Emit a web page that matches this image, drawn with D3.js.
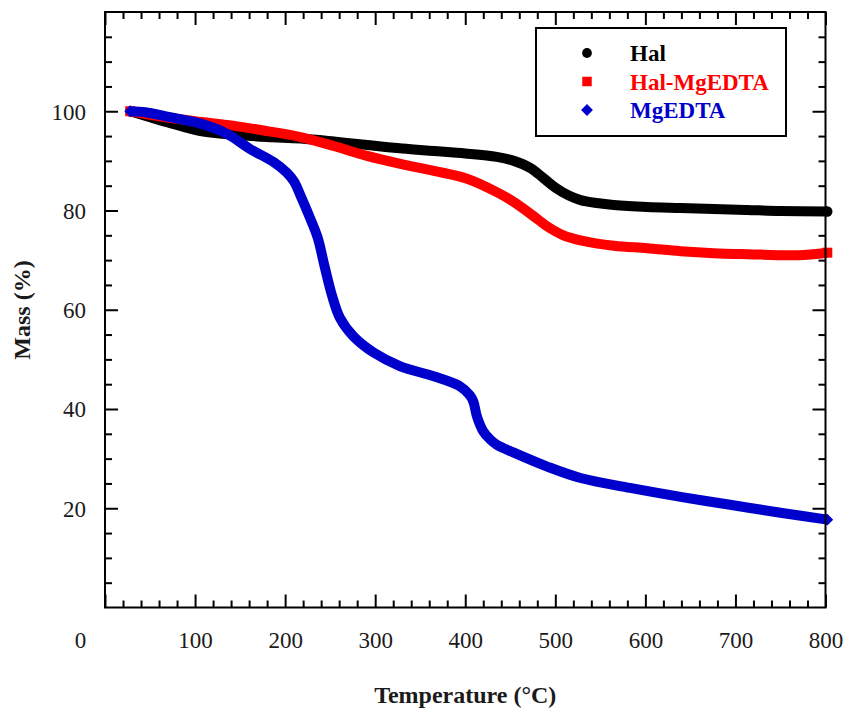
<!DOCTYPE html>
<html>
<head>
<meta charset="utf-8">
<script src="https://cdn.jsdelivr.net/npm/d3@7"></script>
<style>
  body { margin: 0; background: #fff; }
  svg { display: block; }
  svg text { font-family: "Liberation Serif", "Times New Roman", serif; }
</style>
</head>
<body>
<svg id="chart" width="845" height="710"></svg>
<script>
// 數據 - TGA 曲線
const seriesNames = ['Hal', 'Hal-MgEDTA', 'MgEDTA'];
const seriesColors = ['#000000', '#ff0000', '#0000cc'];

const halTemp = [28, 50, 69, 106, 142, 180, 217, 254, 291, 330, 365, 400, 435, 454, 472, 487, 500, 515, 528, 546, 565, 602, 639, 676, 713, 750, 802];
const halMass = [100, 98.8, 97.8, 96.0, 95.3, 94.8, 94.5, 93.9, 93.2, 92.5, 92.0, 91.5, 90.8, 90.0, 88.6, 86.5, 84.6, 83.0, 82.1, 81.5, 81.1, 80.7, 80.5, 80.3, 80.1, 79.9, 79.8];

const halMgTemp = [28, 60, 100, 142, 180, 217, 254, 291, 328, 365, 402, 435, 454, 480, 491, 509, 528, 565, 602, 639, 676, 713, 769, 802];
const halMgMass = [100, 99.0, 98.0, 97.1, 96.0, 94.8, 93.0, 91.0, 89.4, 88.0, 86.4, 83.7, 81.7, 78.3, 76.8, 75.0, 74.0, 72.9, 72.4, 71.8, 71.4, 71.2, 71.0, 71.5];

const mgTemp = [28, 45, 69, 106, 135, 161, 187, 202, 210, 218, 226, 236, 244, 252, 261, 276, 298, 328, 365, 394, 405, 409, 413, 420, 428, 435, 454, 491, 528, 583, 639, 694, 750, 802];
const mgMass = [100, 99.8, 98.9, 97.5, 95.5, 92.4, 89.8, 87.6, 85.8, 82.6, 79.2, 74.6, 68.6, 62.9, 58.3, 54.6, 51.4, 48.6, 46.6, 44.6, 42.8, 41.5, 38.5, 35.5, 33.8, 32.8, 31.2, 28.4, 26.1, 24.1, 22.3, 20.7, 19.1, 17.7];

const xTicks = [0, 100, 200, 300, 400, 500, 600, 700, 800];
const yTicks = [20, 40, 60, 80, 100];

const series = [
    { name: seriesNames[0], color: seriesColors[0], symbol: 'circle', temp: halTemp, mass: halMass },
    { name: seriesNames[1], color: seriesColors[1], symbol: 'square', temp: halMgTemp, mass: halMgMass },
    { name: seriesNames[2], color: seriesColors[2], symbol: 'diamond', temp: mgTemp, mass: mgMass }
];

const serif = '"Liberation Serif", "Times New Roman", serif';
const svg = d3.select('#chart');
const margin = { top: 12, right: 19.5, bottom: 102.5, left: 105 };
const width = 845, height = 710;

const x = d3.scaleLinear().domain([0, 800]).range([margin.left, width - margin.right]);
const y = d3.scaleLinear().domain([0, 120]).range([height - margin.bottom, margin.top]);

const xMinor = d3.range(0, 801, 20).filter(v => v % 100 !== 0);
const yMinor = d3.range(0, 121, 5).filter(v => v % 20 !== 0);

// 刻度 (全部朝內)
function tickLayer(axisFn, scale, values, size, transform) {
    const g = svg.append('g')
        .attr('transform', transform)
        .call(axisFn(scale).tickValues(values).tickSize(size).tickFormat(''));
    g.select('.domain').remove();
    g.selectAll('line').attr('stroke', '#000').attr('stroke-width', 2);
    return g;
}

const bottomY = y(0), topY = y(120), leftX = x(0), rightX = x(800);

// 下方
tickLayer(d3.axisTop, x, xTicks, 13, `translate(0,${bottomY})`);
tickLayer(d3.axisTop, x, xMinor, 7, `translate(0,${bottomY})`);
// 上方
tickLayer(d3.axisBottom, x, xTicks, 13, `translate(0,${topY})`);
tickLayer(d3.axisBottom, x, xMinor, 7, `translate(0,${topY})`);
// 左邊
tickLayer(d3.axisRight, y, yTicks, 13, `translate(${leftX},0)`);
tickLayer(d3.axisRight, y, yMinor, 7, `translate(${leftX},0)`);
// 右邊
tickLayer(d3.axisLeft, y, yTicks, 13, `translate(${rightX},0)`);
tickLayer(d3.axisLeft, y, yMinor, 7, `translate(${rightX},0)`);

// 刻度文字
const xAxisLabels = svg.append('g')
    .attr('transform', `translate(0,${bottomY})`)
    .call(d3.axisBottom(x).tickValues(xTicks).tickSize(0).tickPadding(0));
xAxisLabels.attr('font-family', serif);
xAxisLabels.select('.domain').remove();
xAxisLabels.selectAll('text')
    .attr('y', 40)
    .attr('dy', 0)
    .attr('dx', d => d === 0 ? -25 : 0)
    .attr('font-size', 23)
    .attr('font-family', serif)
    .attr('fill', '#1a1a1a');

const yAxisLabels = svg.append('g')
    .attr('transform', `translate(${leftX},0)`)
    .call(d3.axisLeft(y).tickValues(yTicks).tickSize(0).tickPadding(19));
yAxisLabels.attr('font-family', serif);
yAxisLabels.select('.domain').remove();
yAxisLabels.selectAll('text')
    .attr('dy', '0.34em')
    .attr('font-size', 23)
    .attr('font-family', serif)
    .attr('fill', '#1a1a1a');

// 曲線
const line = d3.line()
    .x(d => x(d[0]))
    .y(d => y(d[1]))
    .curve(d3.curveCatmullRom.alpha(0.5));

const symbolFor = { circle: d3.symbolCircle, square: d3.symbolSquare, diamond: d3.symbolSquare };

series.forEach(s => {
    const pts = s.temp.map((t, i) => [t, s.mass[i]]);
    svg.append('path')
        .datum(pts)
        .attr('d', line)
        .attr('fill', 'none')
        .attr('stroke', s.color)
        .attr('stroke-width', 10)
        .attr('stroke-linejoin', 'round');
    // 兩端標記
    [pts[0], pts[pts.length - 1]].forEach(p => {
        svg.append('path')
            .attr('d', d3.symbol().type(symbolFor[s.symbol]).size(s.symbol === 'circle' ? 85 : (s.symbol === 'diamond' ? 70 : 100))())
            .attr('transform', `translate(${x(p[0])},${y(p[1])}) rotate(${s.symbol === 'diamond' ? 45 : 0})`)
            .attr('fill', s.color);
    });
});

// 外框
svg.append('rect')
    .attr('x', leftX)
    .attr('y', topY)
    .attr('width', rightX - leftX)
    .attr('height', bottomY - topY)
    .attr('fill', 'none')
    .attr('stroke', '#000')
    .attr('stroke-width', 2);

// 圖例
const legend = svg.append('g');
legend.append('rect')
    .attr('x', 536).attr('y', 28)
    .attr('width', 250).attr('height', 108)
    .attr('fill', '#fff')
    .attr('stroke', '#000')
    .attr('stroke-width', 2);

series.forEach((s, i) => {
    const cy = 53 + i * 28.5;
    legend.append('path')
        .attr('d', d3.symbol().type(symbolFor[s.symbol]).size(s.symbol === 'circle' ? 75 : (s.symbol === 'diamond' ? 70 : 90))())
        .attr('transform', `translate(587,${cy}) rotate(${s.symbol === 'diamond' ? 45 : 0})`)
        .attr('fill', s.color);
    legend.append('text')
        .attr('x', 630)
        .attr('y', cy + 8)
        .attr('font-size', 23)
        .attr('font-weight', 'bold')
        .attr('font-family', serif)
        .attr('fill', s.color)
        .text(s.name);
});

// 座標軸標題
svg.append('text')
    .attr('x', (leftX + rightX) / 2)
    .attr('y', 703)
    .attr('text-anchor', 'middle')
    .attr('font-size', 24)
    .attr('font-weight', 'bold')
    .attr('font-family', serif)
    .attr('fill', '#1a1a1a')
    .text('Temperature (°C)');

svg.append('text')
    .attr('transform', 'translate(30,310) rotate(-90)')
    .attr('text-anchor', 'middle')
    .attr('font-size', 24)
    .attr('font-weight', 'bold')
    .attr('font-family', serif)
    .attr('fill', '#1a1a1a')
    .text('Mass (%)');
</script>
</body>
</html>
